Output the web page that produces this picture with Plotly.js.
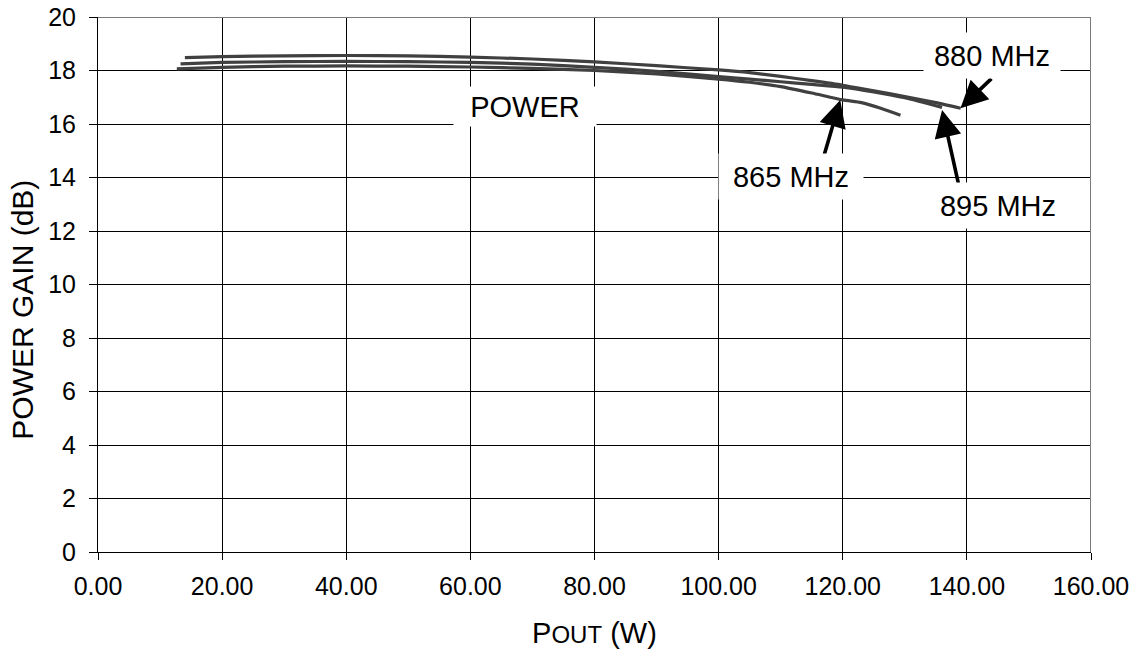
<!DOCTYPE html>
<html>
<head>
<meta charset="utf-8">
<script src="https://cdn.plot.ly/plotly-3.0.1.min.js"></script>
<style>
  html, body { margin: 0; padding: 0; background: #fff; }
  #chart { width: 1141px; height: 653px; }
</style>
</head>
<body>
<div id="chart"></div>
<script>
// ---- Data ----
const pout880 = [14.0, 20, 30, 40, 50, 60, 70, 80, 90, 100, 105, 110, 115, 120, 125, 130, 135, 139.0];
const gain880 = [18.48, 18.52, 18.55, 18.56, 18.55, 18.50, 18.43, 18.32, 18.18, 18.02, 17.92, 17.78, 17.62, 17.45, 17.24, 17.03, 16.80, 16.59];

const pout895 = [13.3, 20, 30, 40, 50, 60, 70, 80, 90, 100, 105, 110, 115, 120, 125, 130, 136.0];
const gain895 = [18.25, 18.30, 18.33, 18.34, 18.33, 18.30, 18.24, 18.12, 17.97, 17.77, 17.68, 17.58, 17.48, 17.38, 17.20, 16.98, 16.62];

const pout865 = [12.7, 20, 30, 40, 50, 60, 70, 80, 90, 100, 105, 110, 115, 120, 123, 126, 129.3];
const gain865 = [18.06, 18.12, 18.16, 18.17, 18.16, 18.13, 18.08, 18.00, 17.87, 17.68, 17.56, 17.40, 17.16, 16.90, 16.80, 16.60, 16.33];

const xTicks = [0, 20, 40, 60, 80, 100, 120, 140, 160];
const yTicks = [0, 2, 4, 6, 8, 10, 12, 14, 16, 18, 20];

const freqLabels = ['865 MHz', '880 MHz', '895 MHz'];
const powerLabel = 'POWER';

// ---- Chart ----
const FONT = 'Liberation Sans, Arial, Helvetica, sans-serif';
const lineStyle = { color: '#404040', width: 3.2, shape: 'spline', smoothing: 0.6 };

const traces = [
  { x: pout880, y: gain880, mode: 'lines', line: lineStyle, name: freqLabels[1], hoverinfo: 'x+y+name' },
  { x: pout895, y: gain895, mode: 'lines', line: lineStyle, name: freqLabels[2], hoverinfo: 'x+y+name' },
  { x: pout865, y: gain865, mode: 'lines', line: lineStyle, name: freqLabels[0], hoverinfo: 'x+y+name' }
];

const arrowBase = {
  text: '', showarrow: true, arrowhead: 2, arrowsize: 1.5, arrowwidth: 3.6,
  arrowcolor: '#000', xref: 'x', yref: 'y', axref: 'x', ayref: 'y'
};
const labelBase = {
  showarrow: false, xref: 'x', yref: 'y', bgcolor: '#ffffff',
  font: { family: FONT, size: 29, color: '#000' }
};

const annotations = [
  // arrows (drawn first, label boxes cover their tails)
  Object.assign({}, arrowBase, { x: 119.6, y: 16.90, ax: 116.7, ay: 14.6 }),
  Object.assign({}, arrowBase, { x: 138.97, y: 16.59, ax: 144.2, ay: 17.75 }),
  Object.assign({}, arrowBase, { x: 136.0, y: 16.52, ax: 138.8, ay: 13.6 }),
  // labels with white boxes that break the grid
  Object.assign({}, labelBase, { text: freqLabels[0], x: 111.7, y: 14.03, width: 142, height: 43 }),
  Object.assign({}, labelBase, { text: freqLabels[1], x: 144.0, y: 18.55, width: 134, height: 43 }),
  Object.assign({}, labelBase, { text: freqLabels[2], x: 145.0, y: 12.95, width: 150, height: 43 }),
  Object.assign({}, labelBase, { text: powerLabel, x: 68.8, y: 16.64, width: 140, height: 37 }),
  // y-axis title
  { text: 'POWER GAIN (dB)', textangle: -90, showarrow: false, xref: 'paper', yref: 'paper',
    x: -0.0755, y: 0.453, xanchor: 'center', yanchor: 'middle',
    font: { family: FONT, size: 30, color: '#000' } }
];

const layout = {
  width: 1141, height: 653,
  margin: { l: 98, r: 50, t: 17, b: 101 },
  paper_bgcolor: '#ffffff', plot_bgcolor: '#ffffff',
  showlegend: false,
  font: { family: FONT, color: '#000' },
  xaxis: {
    range: [0, 160], tickvals: xTicks, ticktext: xTicks.map(v => v.toFixed(2)),
    showgrid: true, gridcolor: '#000', gridwidth: 1,
    showline: true, linecolor: '#000', linewidth: 1,
    ticks: 'outside', ticklen: 7, tickcolor: '#000', tickwidth: 1,
    ticklabelstandoff: 5,
    zeroline: false,
    tickfont: { family: FONT, size: 25, color: '#000' },
    title: { text: 'P<span style="font-size:24px">OUT</span> (W)', standoff: 23,
             font: { family: FONT, size: 29, color: '#000' } }
  },
  yaxis: {
    range: [0, 20], tickvals: yTicks,
    showgrid: true, gridcolor: '#000', gridwidth: 1,
    showline: true, linecolor: '#000', linewidth: 1,
    ticks: 'outside', ticklen: 8, tickcolor: '#000', tickwidth: 1,
    ticklabelstandoff: 8,
    zeroline: false,
    tickfont: { family: FONT, size: 25, color: '#000' }
  },
  shapes: [
    { type: 'line', xref: 'x', yref: 'y', x0: 0, x1: 160, y0: 20, y1: 20, line: { color: '#7a7a7a', width: 2 }, layer: 'above' },
    { type: 'line', xref: 'x', yref: 'y', x0: 160, x1: 160, y0: 0, y1: 20, line: { color: '#7a7a7a', width: 2 }, layer: 'above' }
  ],
  annotations: annotations
};

Plotly.newPlot('chart', traces, layout, { staticPlot: true, displayModeBar: false });
</script>
</body>
</html>
